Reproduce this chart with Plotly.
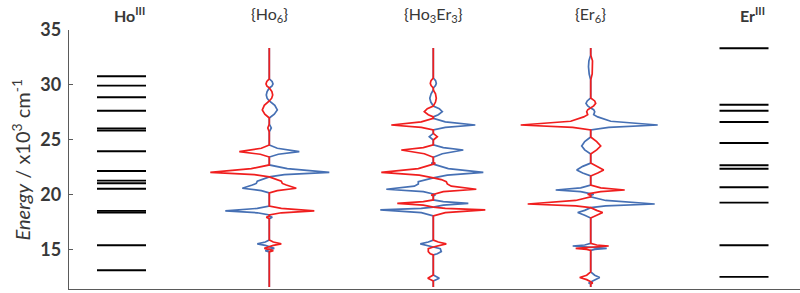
import plotly.graph_objects as go

# ---------------- data ----------------
columns = ["Ho<sup>III</sup>", "{Ho<sub>6</sub>}", "{Ho<sub>3</sub>Er<sub>3</sub>}", "{Er<sub>6</sub>}", "Er<sup>III</sup>"]

ho_levels = [13.15, 15.43, 18.40, 18.55, 20.57, 21.06, 21.30, 22.18, 23.97,
             25.85, 26.05, 27.66, 28.88, 29.94, 30.79]
er_levels = [12.55, 15.43, 19.30, 20.70, 22.39, 22.70, 24.73, 26.64, 27.66,
             28.21, 33.34]

ho6_energy = [33.36, 30.55, 30.32, 30.09, 29.90, 29.73, 29.40, 29.09, 28.80, 28.55,
              28.15, 27.73, 27.35, 27.00, 26.45, 26.09, 25.73, 24.55, 24.25, 23.94,
              23.70, 23.45, 22.73, 22.40, 22.05, 21.85, 21.64, 21.40, 21.25, 21.05,
              20.90, 20.61, 20.40, 20.18, 19.00, 18.78, 18.55, 18.38, 18.18, 18.08,
              17.97, 17.85, 15.90, 15.72, 15.55, 15.42, 15.27, 15.15, 15.05, 14.94,
              14.82, 11.64]
ho6_red = [0, 0, -2.5, -3.3, -2.3, 0, 2.6, 3.4, 2.4, 0,
           -5, -7, -4.5, 0, 0, -1.5, 0, 0, -8, -30,
           -9, 0, 0, -18, -59, -15, 0, 7, 12, 13,
           17, 27, 8, 0, 0, 12, 45, 12, 0, 0,
           -3, 0, 0, 4, 12, 4, 0, -5, 0, 4,
           0, 0]
ho6_blue = [0, 0, 2.8, 3.7, 2.6, 0, -2.2, -3, -2.2, 0,
            5.5, 8, 5, 0, 0, 2, 0, 0, 8, 30,
            9, 0, 0, 18, 60, 15, 0, -7, -12, -13,
            -17, -27, -8, 0, 0, -12, -44, -12, 0, 0,
            3, 0, 0, -4, -12, -4, 0, 5, 0, -4,
            0, 0]

ho3er3_energy = [33.36, 30.64, 30.40, 30.15, 29.95, 29.73, 29.55, 29.20, 28.79, 28.45,
                 28.09, 27.85, 27.57, 27.30, 27.10, 26.97, 26.65, 26.36, 26.15, 25.91,
                 25.60, 25.30, 25.00, 24.55, 24.30, 24.09, 23.75, 23.43, 22.95, 22.87,
                 22.80, 22.40, 22.06, 21.80, 21.55, 21.40, 21.20, 21.00, 20.80, 20.52,
                 20.30, 20.09, 20.00, 19.90, 19.55, 19.40, 19.24, 19.07, 18.90, 18.78,
                 18.64, 18.40, 18.10, 15.90, 15.72, 15.55, 15.42, 15.27, 15.12, 14.85,
                 14.65, 14.55, 12.73, 12.43, 12.18, 11.64]
ho3er3_red = [0, 0, -2.3, -3, -2.2, 0, 0, 2.2, 3, 2.2,
              0, -6, -9, -5, 0, 0, -12, -42, -12, 0,
              0, 4, 0, 0, -10, -32, -9, 0, 0, 2,
              0, -15, -52, -14, 0, 8, 13, 14, 18, 43,
              10, 0, -2, 0, 0, -10, -36, -10, 0, 12,
              52, 12, 0, 0, 5, 13, 5, 0, -5, -5,
              -3, 0, 0, -5.5, 0, 0]
ho3er3_blue = [0, 0, 2.3, 3, 2.2, 0, 0, -2.2, -3.5, -2.5,
               0, 6, 9, 5, 0, 0, 12, 42, 12, 0,
               0, -4, 0, 0, 10, 30, 9, 0, 0, -2,
               0, 15, 50, 14, 0, -8, -15, -15, -19, -47,
               -10, 0, 2, 0, 0, 10, 35, 10, 0, -12,
               -53, -12, 0, 0, -5, -13, -5, 0, 7, 8,
               4, 0, 0, 6, 0, 0]

er6_energy = [33.36, 32.73, 32.20, 31.66, 31.00, 30.45, 28.82, 28.55, 28.33, 28.10,
              27.90, 27.75, 27.57, 27.30, 27.10, 26.70, 26.36, 26.15, 25.91, 25.27,
              24.85, 24.45, 24.10, 23.73, 22.90, 22.60, 22.27, 22.00, 21.73, 20.90,
              20.65, 20.45, 20.30, 20.15, 20.06, 19.95, 19.82, 19.50, 19.18, 19.00,
              18.85, 18.60, 18.40, 18.15, 17.90, 15.60, 15.45, 15.36, 15.27, 15.15,
              15.05, 14.95, 13.00, 12.70, 12.50, 12.30, 12.10, 12.00, 11.90, 11.64]
er6_red = [0, 0, 1.8, 2, 1.5, 0, 0, 4, 5, 3,
           0, -3, -4, -3, -7, -20, -70, -18, 0, 0,
           6, 10, 6, 0, 0, 7, 13, 7, 0, 0,
           10, 34, 10, 0, -3, 0, 0, -15, -63, -15,
           0, 6, 12, 6, 0, 0, 6, 18, 0, -15,
           -4, 0, 0, -4, -11, -4, 0, 2, 0, 0]
er6_blue = [0, 0, -1.8, -2.2, -1.5, 0, 0, -3.5, -4.7, -3,
            0, 3, 4, 3, 7, 20, 67, 18, 0, 0,
            -6, -9, -6, 0, 0, -8, -14, -8, 0, 0,
            -10, -35, -10, 0, 3, 0, 0, 15, 64, 15,
            0, -6, -13, -6, 0, 0, -6, -18, 0, 16,
            4, 0, 0, 4, 9, 4, 0, -2, 0, 0]

y_ticks = [15, 20, 25, 30, 35]

# ---------------- layout constants ----------------
centers = [121.5, 269.3, 433.3, 590.7, 744.0]
level_half = 24.5
RED = "#f01e1e"
BLUE = "#4670b4"
TXT = "#383838"
AX = "#5a5a5a"
FONT = "Lato"

fig = go.Figure()


def level_trace(levels, cx):
    xs, ys = [], []
    for e in levels:
        xs += [cx - level_half, cx + level_half, None]
        ys += [e, e, None]
    return go.Scatter(x=xs, y=ys, mode="lines", line=dict(color="black", width=1.9),
                      hoverinfo="skip", showlegend=False)


fig.add_trace(level_trace(ho_levels, centers[0]))
fig.add_trace(level_trace(er_levels, centers[4]))

for cx, en, red, blue in [(centers[1], ho6_energy, ho6_red, ho6_blue),
                          (centers[2], ho3er3_energy, ho3er3_red, ho3er3_blue),
                          (centers[3], er6_energy, er6_red, er6_blue)]:
    fig.add_trace(go.Scatter(x=[cx + v for v in blue], y=en, mode="lines",
                             line=dict(color=BLUE, width=1.7), showlegend=False))
    fig.add_trace(go.Scatter(x=[cx + v for v in red], y=en, mode="lines",
                             line=dict(color=RED, width=1.7), showlegend=False))

for i, (label, cx) in enumerate(zip(columns, centers)):
    bold = i in (0, 4)
    fig.add_annotation(x=cx + (8 if bold else 0), y=1.058, xref="x", yref="paper",
                       text=label, showarrow=False,
                       font=dict(family=FONT, size=16, color=TXT,
                                 weight="bold" if bold else "normal"),
                       xanchor="center", yanchor="middle")

fig.add_annotation(x=-49 / 731, y=0.5, xref="paper", yref="paper", textangle=-90,
                   text="<i>Energy</i> / x10<sup>3</sup> cm<sup>-1</sup>",
                   showarrow=False, font=dict(family=FONT, size=20, color=TXT),
                   xanchor="center", yanchor="middle")

fig.update_layout(
    width=800, height=293,
    margin=dict(l=69, r=0, t=30, b=4),
    plot_bgcolor="white", paper_bgcolor="white",
    xaxis=dict(range=[69, 800], showgrid=False, zeroline=False, showticklabels=False,
               ticks="", showline=True, linecolor=AX, linewidth=1.3, fixedrange=True),
    yaxis=dict(range=[11.45, 35], tickvals=y_ticks, showgrid=False, zeroline=False,
               showline=True, linecolor=AX, linewidth=1.3, ticks="inside", ticklen=4,
               tickcolor=AX,
               tickfont=dict(family=FONT, size=18, color=TXT, weight="bold"),
               ticklabelstandoff=3),
)

fig.write_html("out.html")
